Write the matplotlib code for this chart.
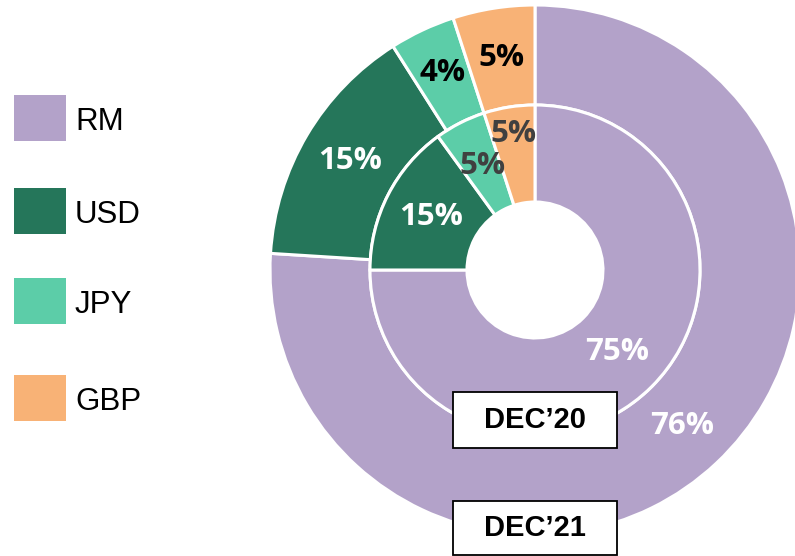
import matplotlib
matplotlib.use("Agg")
import matplotlib.pyplot as plt
import numpy as np
from matplotlib.patches import Rectangle

categories = ['RM', 'USD', 'JPY', 'GBP']
dec21 = [76, 15, 4, 5]
dec20 = [75, 15, 5, 5]
period_labels = ['DEC\u201920', 'DEC\u201921']
colors = ['#b3a2c9', '#25765a', '#5ccda8', '#f8b276']
outer_label_colors = ['white', 'white', 'black', 'black']
inner_label_colors = ['white', 'white', '#404040', '#404040']

W, H = 795, 556
fig = plt.figure(figsize=(W / 100, H / 100), dpi=100)
fig.patch.set_facecolor('white')
cx, cy, R = 535, 270, 265
ax = fig.add_axes([(cx - R) / W, (H - cy - R) / H, 2 * R / W, 2 * R / H])

outer_w = 100 / R
inner_r = 165 / R
inner_w = 97 / R

ax.pie(dec21, radius=1.0, startangle=90, counterclock=False, colors=colors,
       wedgeprops=dict(width=outer_w, edgecolor='white', linewidth=2.2))
ax.pie(dec20, radius=inner_r, startangle=90, counterclock=False, colors=colors,
       wedgeprops=dict(width=inner_w, edgecolor='white', linewidth=2.2))
ax.set_xlim(-1, 1)
ax.set_ylim(-1, 1)
ax.set_aspect('equal')
ax.axis('off')

pct_font = dict(family='Open Sans', fontweight='bold', fontsize=22.5)


def mids(vals):
    tot = float(sum(vals))
    cum = np.cumsum([0] + list(vals))[:-1]
    return [np.deg2rad(90 - 360 * (c + v / 2) / tot) for c, v in zip(cum, vals)]


outer_rad = [0.81, 0.81, 0.82, 0.81]
for v, a, col, r in zip(dec21, mids(dec21), outer_label_colors, outer_rad):
    ax.text(r * np.cos(a), r * np.sin(a), f'{v}%', color=col,
            ha='center', va='center', **pct_font)

inner_rad = [0.44, 0.44, 0.44, 0.52]
for v, a, col, r in zip(dec20, mids(dec20), inner_label_colors, inner_rad):
    ax.text(r * np.cos(a), r * np.sin(a), f'{v}%', color=col,
            ha='center', va='center', **pct_font)

# legend
leg_top = [95, 188, 278, 375]
for cat, col, top in zip(categories, colors, leg_top):
    fig.patches.append(Rectangle((14 / W, (H - top - 46) / H), 52 / W, 46 / H,
                                 transform=fig.transFigure, facecolor=col,
                                 edgecolor='none'))
    fig.text(75 / W, (H - top - 27) / H, cat, family='Liberation Sans',
             fontsize=22.5, ha='left', va='center', color='black')

# period boxes
box_tops = [392, 501]
box_bottoms = [448, 555]
for lab, t, b in zip(period_labels, box_tops, box_bottoms):
    fig.patches.append(Rectangle((453 / W, (H - b) / H), 164 / W, (b - t) / H,
                                 transform=fig.transFigure, facecolor='white',
                                 edgecolor='black', linewidth=1.3, zorder=5))
    fig.text(535 / W, (H - (t + b) / 2) / H, lab, family='Liberation Sans',
             fontweight='bold', fontsize=21, ha='center', va='center',
             color='black', zorder=6)

fig.savefig('out.png', dpi=100)
